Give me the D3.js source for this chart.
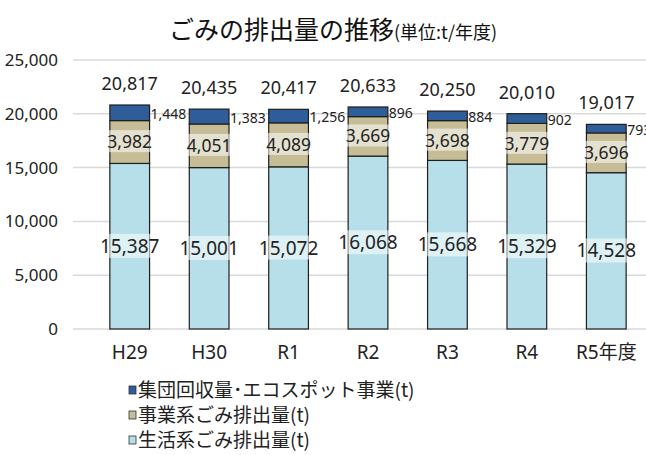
<!DOCTYPE html>
<html lang="ja">
<head>
<meta charset="UTF-8">
<title>ごみの排出量の推移</title>
<style>
  body { margin: 0; background: #fff; }
  svg { display: block; font-family: "Noto Sans CJK JP", "Noto Sans", sans-serif; }
</style>
</head>
<body>
<script src="https://cdn.jsdelivr.net/npm/d3@7"></script>
<script>
// data
var years = ["H29", "H30", "R1", "R2", "R3", "R4", "R5年度"];
var seikatsu = [15387, 15001, 15072, 16068, 15668, 15329, 14528];
var jigyo = [3982, 4051, 4089, 3669, 3698, 3779, 3696];
var shudan = [1448, 1383, 1256, 896, 884, 902, 793];
var totals = [20817, 20435, 20417, 20633, 20250, 20010, 19017];
var seriesNames = ["生活系ごみ排出量(t)", "事業系ごみ排出量(t)", "集団回収量･エコスポット事業(t)"];
var colors = ["#b6dfe9", "#c6bd97", "#2e5d99"];
var yTicks = [0, 5000, 10000, 15000, 20000, 25000];

var W = 646, H = 455;
var svg = d3.select("body").append("svg").attr("width", W).attr("height", H);

var x = d3.scaleBand().domain(years).range([90, 646]).paddingInner(0.5).paddingOuter(0.25);
var y = d3.scaleLinear().domain([0, 25000]).range([329, 60]);

// title
var title = svg.append("text").attr("x", 333).attr("y", 39).attr("text-anchor", "middle")
  .attr("fill", "#111");
title.append("tspan").attr("font-size", 25).text("ごみの排出量の推移");
title.append("tspan").attr("font-size", 18).text("(単位:t/年度)");

// gridlines
svg.append("g").selectAll("line").data(yTicks).join("line")
  .attr("x1", 73).attr("x2", 646)
  .attr("y1", d => y(d)).attr("y2", d => y(d))
  .attr("stroke", "#d9d9d9").attr("stroke-width", 1.5);

// y axis
var yAxis = svg.append("g").attr("transform", "translate(61,0)")
  .call(d3.axisLeft(y).tickValues(yTicks).tickSize(0).tickFormat(d3.format(",")));
yAxis.select(".domain").remove();
yAxis.selectAll("text").attr("font-size", 17).attr("fill", "#222")
  .attr("font-family", "'Noto Sans', sans-serif");

// x axis
var xAxis = svg.append("g").attr("transform", "translate(0,339)")
  .call(d3.axisBottom(x).tickSize(0));
xAxis.select(".domain").remove();
xAxis.selectAll("text").attr("font-size", 19).attr("fill", "#222").attr("dy", "0.9em")
  .attr("font-family", "'Noto Sans', 'Noto Sans CJK JP', sans-serif");

// stacked data
var rows = years.map((yr, i) => ({ year: yr, s0: seikatsu[i], s1: jigyo[i], s2: shudan[i] }));
var stack = d3.stack().keys(["s0", "s1", "s2"])(rows);

var g = svg.append("g");
stack.forEach(function (layer, li) {
  g.selectAll(null).data(layer).join("rect")
    .attr("x", d => x(d.data.year))
    .attr("width", x.bandwidth())
    .attr("y", d => y(d[1]))
    .attr("height", d => y(d[0]) - y(d[1]))
    .attr("fill", colors[li])
    .attr("stroke", "#1e1e1e").attr("stroke-width", 1.2);
});

var fmt = d3.format(",");
var numFont = "'Noto Sans', sans-serif";

// labels with translucent box for first two layers
function boxedLabel(layer, size) {
  layer.forEach(function (d) {
    var cx = x(d.data.year) + x.bandwidth() / 2;
    var cy = y((d[0] + d[1]) / 2);
    var t = svg.append("text").attr("x", cx).attr("y", cy).attr("dy", "0.35em")
      .attr("text-anchor", "middle").attr("font-size", size).attr("fill", "#222")
      .attr("font-family", numFont).text(fmt(d[1] - d[0]));
    var bb = t.node().getBBox();
    svg.insert("rect", function () { return t.node(); })
      .attr("x", bb.x).attr("y", bb.y + 1).attr("width", bb.width).attr("height", bb.height - 2)
      .attr("fill", "#fff").attr("opacity", 0.55);
  });
}
boxedLabel(stack[0], 19);
boxedLabel(stack[1], 17.5);

// top segment labels, right of bar
svg.append("g").selectAll("text").data(stack[2]).join("text")
  .attr("x", d => x(d.data.year) + x.bandwidth() + 1)
  .attr("y", d => y((d[0] + d[1]) / 2)).attr("dy", "0.45em")
  .attr("font-size", 14).attr("fill", "#222").attr("font-family", numFont)
  .text(d => fmt(d[1] - d[0]));

// totals
svg.append("g").selectAll("text").data(totals).join("text")
  .attr("x", (d, i) => x(years[i]) + x.bandwidth() / 2)
  .attr("y", d => y(d) - 15)
  .attr("text-anchor", "middle").attr("font-size", 18).attr("fill", "#222")
  .attr("font-family", numFont).text(d => fmt(d));

// legend
var legendOrder = [2, 1, 0];
var lg = svg.append("g");
legendOrder.forEach(function (si, k) {
  var ly = 390 + k * 25;
  lg.append("rect").attr("x", 129).attr("y", ly - 4).attr("width", 7).attr("height", 8)
    .attr("fill", colors[si]).attr("stroke", "#333").attr("stroke-width", 0.8);
  lg.append("text").attr("x", 138).attr("y", ly).attr("dy", "0.36em")
    .attr("font-size", 19).attr("fill", "#222").text(seriesNames[si]);
});
</script>
</body>
</html>
